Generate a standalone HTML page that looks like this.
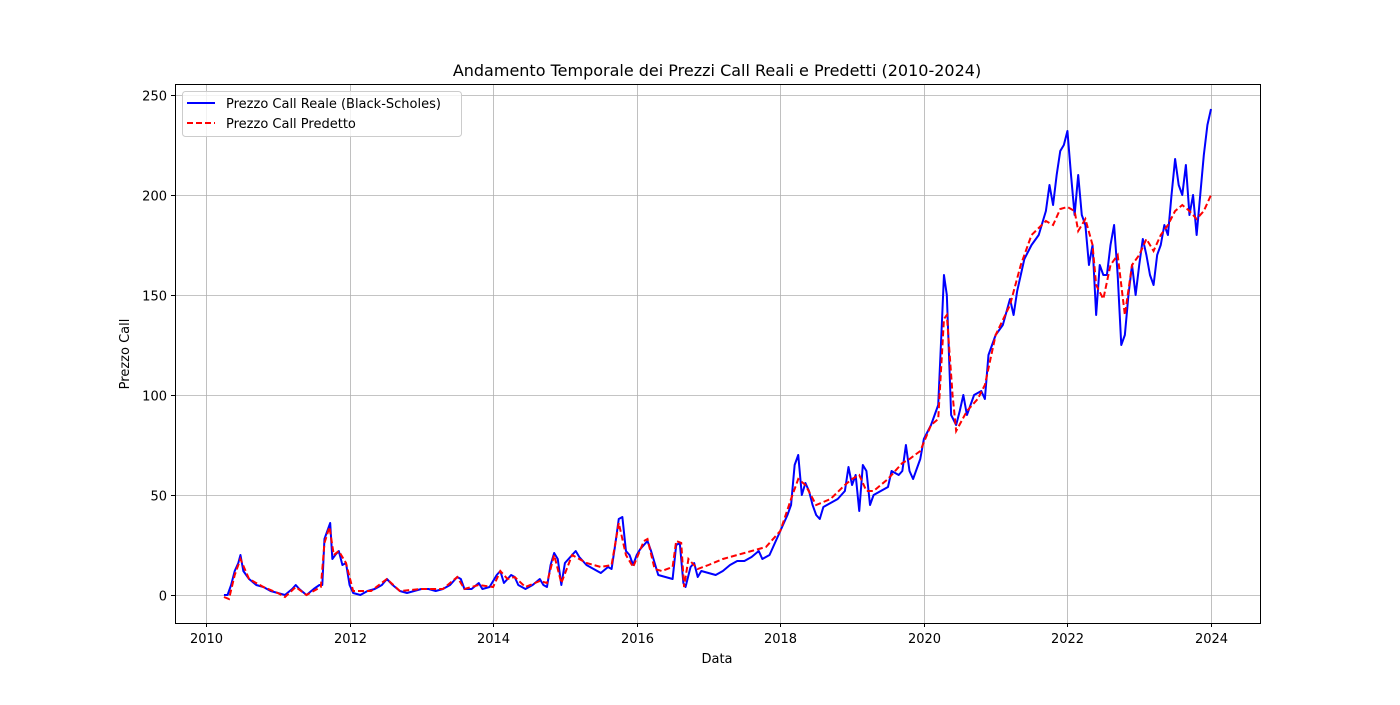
<!DOCTYPE html>
<html><head><meta charset="utf-8"><style>
body{margin:0;background:#fff;font-family:"Liberation Sans","DejaVu Sans",sans-serif}
svg text{font-family:"DejaVu Sans","Liberation Sans",sans-serif}
</style></head><body>
<svg id="chart" width="1400" height="700" xmlns="http://www.w3.org/2000/svg">
<rect width="1400" height="700" fill="#fff"/>
<g id="grid"></g>
<g id="series"></g>
<rect x="175.5" y="84.5" width="1085" height="539" fill="none" stroke="#000" stroke-width="1"/>
<g id="ticks"></g>
<text x="717" y="76" text-anchor="middle" font-size="16">Andamento Temporale dei Prezzi Call Reali e Predetti (2010-2024)</text>
<text x="717" y="663" text-anchor="middle" font-size="13">Data</text>
<text transform="translate(129,354) rotate(-90)" text-anchor="middle" font-size="13">Prezzo Call</text>
<g>
<rect x="182.5" y="91.5" width="279" height="45" rx="3" fill="#fff" fill-opacity="0.8" stroke="#ccc"/>
<line x1="187" y1="103" x2="215" y2="103" stroke="#0000ff" stroke-width="2"/>
<text x="226" y="108" font-size="13">Prezzo Call Reale (Black-Scholes)</text>
<line x1="187" y1="123" x2="215" y2="123" stroke="#ff0000" stroke-width="2" stroke-dasharray="6,3"/>
<text x="226" y="128" font-size="13">Prezzo Call Predetto</text>
</g>
</svg>
<script>
const realDates=[2010.25,2010.3,2010.35,2010.4,2010.45,2010.48,2010.52,2010.6,2010.7,2010.8,2010.9,2011.0,2011.1,2011.2,2011.25,2011.3,2011.4,2011.5,2011.58,2011.62,2011.65,2011.7,2011.73,2011.76,2011.8,2011.85,2011.9,2011.95,2012.0,2012.05,2012.15,2012.25,2012.35,2012.45,2012.52,2012.6,2012.7,2012.8,2012.9,2013.0,2013.1,2013.2,2013.3,2013.4,2013.5,2013.55,2013.6,2013.7,2013.8,2013.85,2013.95,2014.05,2014.1,2014.15,2014.25,2014.3,2014.35,2014.45,2014.55,2014.65,2014.7,2014.75,2014.8,2014.85,2014.9,2014.95,2015.0,2015.1,2015.15,2015.2,2015.3,2015.4,2015.5,2015.6,2015.65,2015.7,2015.75,2015.8,2015.85,2015.9,2015.95,2016.0,2016.05,2016.1,2016.15,2016.2,2016.25,2016.3,2016.4,2016.5,2016.55,2016.6,2016.65,2016.68,2016.75,2016.8,2016.85,2016.9,2017.0,2017.1,2017.2,2017.3,2017.4,2017.5,2017.6,2017.7,2017.75,2017.85,2017.95,2018.0,2018.1,2018.15,2018.2,2018.25,2018.3,2018.35,2018.4,2018.45,2018.5,2018.55,2018.6,2018.7,2018.8,2018.9,2018.95,2019.0,2019.05,2019.1,2019.15,2019.2,2019.25,2019.3,2019.4,2019.5,2019.55,2019.65,2019.7,2019.75,2019.8,2019.85,2019.95,2020.0,2020.1,2020.15,2020.2,2020.25,2020.28,2020.32,2020.38,2020.45,2020.5,2020.55,2020.6,2020.7,2020.8,2020.85,2020.9,2021.0,2021.1,2021.2,2021.25,2021.3,2021.4,2021.5,2021.6,2021.7,2021.75,2021.8,2021.85,2021.9,2021.95,2022.0,2022.05,2022.1,2022.15,2022.2,2022.25,2022.3,2022.35,2022.4,2022.45,2022.5,2022.55,2022.6,2022.65,2022.7,2022.75,2022.8,2022.85,2022.9,2022.95,2023.0,2023.05,2023.1,2023.15,2023.2,2023.25,2023.3,2023.35,2023.4,2023.45,2023.5,2023.55,2023.6,2023.65,2023.7,2023.75,2023.8,2023.85,2023.9,2023.95,2024.0];
const realValues=[0,0,5,12,16,20,12,8,5,4,2,1,0,3,5,3,0,3,5,5,28,33,36,18,20,22,15,16,5,1,0,2,3,5,8,5,2,1,2,3,3,2,3,5,9,8,3,3,6,3,4,10,12,6,10,9,5,3,5,8,5,4,15,21,18,5,16,20,22,19,15,13,11,14,13,25,38,39,22,20,15,20,23,25,27,22,16,10,9,8,25,26,6,4,14,16,9,12,11,10,12,15,17,17,19,22,18,20,28,32,40,45,65,70,50,56,52,45,40,38,44,46,48,52,64,55,60,42,65,62,45,50,52,54,62,60,62,75,62,58,68,78,85,90,95,135,160,150,90,85,92,100,90,100,102,98,120,130,135,148,140,152,168,175,180,192,205,195,210,222,225,232,210,190,210,190,185,165,175,140,165,160,160,175,185,160,125,130,150,165,150,165,178,170,160,155,170,175,185,180,200,218,205,200,215,190,200,180,200,220,235,243];
const predDates=[2010.25,2010.32,2010.4,2010.48,2010.6,2010.8,2011.0,2011.1,2011.25,2011.4,2011.6,2011.65,2011.72,2011.78,2011.85,2011.95,2012.05,2012.3,2012.52,2012.7,2013.0,2013.3,2013.5,2013.6,2013.8,2014.0,2014.1,2014.2,2014.3,2014.45,2014.65,2014.75,2014.85,2014.95,2015.1,2015.3,2015.5,2015.65,2015.75,2015.85,2015.95,2016.1,2016.15,2016.25,2016.35,2016.5,2016.55,2016.62,2016.66,2016.72,2016.85,2017.0,2017.2,2017.4,2017.6,2017.8,2018.0,2018.15,2018.25,2018.35,2018.5,2018.7,2018.9,2019.0,2019.1,2019.2,2019.3,2019.5,2019.7,2019.8,2019.95,2020.1,2020.2,2020.28,2020.32,2020.4,2020.45,2020.6,2020.75,2020.85,2021.0,2021.2,2021.35,2021.5,2021.7,2021.8,2021.9,2022.0,2022.1,2022.15,2022.25,2022.35,2022.4,2022.5,2022.6,2022.7,2022.8,2022.9,2023.0,2023.1,2023.2,2023.3,2023.4,2023.5,2023.6,2023.7,2023.8,2023.9,2024.0];
const predValues=[-1,-2,10,18,8,4,1,-1,4,0,4,26,34,20,22,16,2,2,8,2,3,3,9,3,5,4,12,8,9,4,7,6,20,6,20,16,14,15,36,20,14,27,28,13,12,14,27,26,4,18,13,15,18,20,22,24,32,48,58,55,45,48,55,58,60,52,52,58,66,68,72,85,88,138,140,100,82,92,98,105,130,145,165,180,187,185,193,194,192,182,188,175,155,148,165,170,140,165,170,178,172,180,185,192,195,192,188,192,200];
const xTicks=[2010,2012,2014,2016,2018,2020,2022,2024];
const yTicks=[0,50,100,150,200,250];
const ns="http://www.w3.org/2000/svg";
const X=v=>206+(v-2010)*(1211-206)/14;
const Y=v=>595-v*2;
const grid=document.getElementById('grid'),ticks=document.getElementById('ticks'),ser=document.getElementById('series');
function mk(tag,at,parent){const e=document.createElementNS(ns,tag);for(const k in at)e.setAttribute(k,at[k]);parent.appendChild(e);return e;}
xTicks.forEach(t=>{const x=Math.round(X(t))+0.5;
const g=mk('line',{x1:x,x2:x,y1:84,y2:623,stroke:'#b0b0b0','stroke-width':0.8},grid);


mk('line',{x1:x,x2:x,y1:623,y2:627,stroke:'#000'},ticks);
const tx=mk('text',{x:x,y:643,'text-anchor':'middle','font-size':13},ticks);tx.textContent=t;

});
yTicks.forEach(t=>{const y=Math.round(Y(t))+0.5;
const g=mk('line',{x1:175,x2:1260,y1:y,y2:y,stroke:'#b0b0b0','stroke-width':0.8},grid);


mk('line',{x1:171,x2:175,y1:y,y2:y,stroke:'#000'},ticks);
const tx=mk('text',{x:167,y:y+5,'text-anchor':'end','font-size':13},ticks);tx.textContent=t;

});
const rp=mk('polyline',{points:realDates.map((d,i)=>X(d)+','+Y(realValues[i])).join(' '),fill:'none',stroke:'#0000ff','stroke-width':2,'stroke-linejoin':'round'},ser);


const pp=mk('polyline',{points:predDates.map((d,i)=>X(d)+','+Y(predValues[i])).join(' '),fill:'none',stroke:'#ff0000','stroke-width':2,'stroke-dasharray':'6,3'},ser);


</script>
</body></html>
